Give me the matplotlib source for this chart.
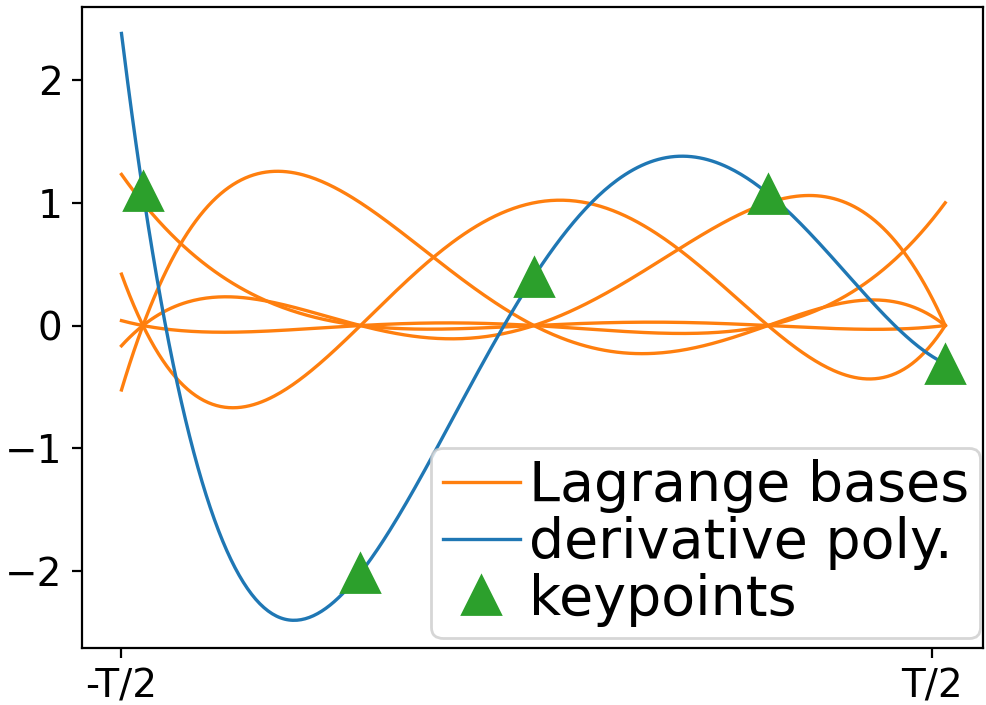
import numpy as np
import matplotlib
matplotlib.use("Agg")
import matplotlib.pyplot as plt

# keypoints (x in units of T, -T/2 = -0.5)
key_x = [-0.4735, -0.2052, 0.0088, 0.2975, 0.5161]
key_y = [1.092, -2.016, 0.399, 1.075, -0.31]
x_start = -0.5
tick_pos = [-0.5, 0.5]
tick_labels = ["-T/2", "T/2"]
y_ticks = [-2, -1, 0, 1, 2]

xs = np.linspace(x_start, key_x[-1], 400)


def lagrange_basis(i, x):
    out = np.ones_like(x)
    for j, xj in enumerate(key_x):
        if j != i:
            out *= (x - xj) / (key_x[i] - xj)
    return out


bases = [lagrange_basis(i, xs) for i in range(len(key_x))]
poly = sum(yi * b for yi, b in zip(key_y, bases))

fig = plt.figure(figsize=(987 / 200, 705 / 200), dpi=200)
ax = fig.add_axes([82 / 987, 1 - 648 / 705, (983 - 82) / 987, (648 - 7) / 705])

for k, b in enumerate(bases):
    ax.plot(xs, b, color="C1", lw=1.2, label="Lagrange bases" if k == 0 else None)
ax.plot(xs, poly, color="C0", lw=1.2, label="derivative poly.")
ax.plot(key_x, key_y, "^", color="C2", ms=13.5, label="keypoints")

ax.set_xlim(-0.5487, 0.5627)
ax.set_ylim(-2.627, 2.595)
ax.set_xticks(tick_pos)
ax.set_xticklabels(tick_labels)
ax.set_yticks(y_ticks)
ax.tick_params(labelsize=14)

ax.legend(loc="lower right", bbox_to_anchor=(0.9967, 0.0156), borderaxespad=0,
          fontsize=20, labelspacing=0.05, handlelength=1.4, handletextpad=0.15,
          borderpad=0.2)

plt.savefig("out.png", dpi=200)
